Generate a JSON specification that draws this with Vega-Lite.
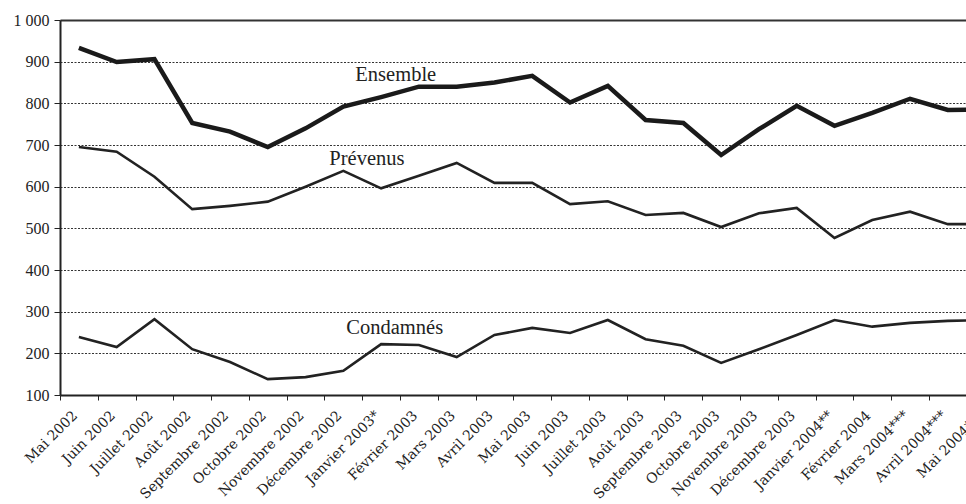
{
  "$schema": "https://vega.github.io/schema/vega-lite/v6.json",
  "autosize": {"type": "none"},
  "width": 906,
  "height": 375,
  "padding": {"left": 60, "top": 20, "right": 0, "bottom": 109},
  "background": "#ffffff",
  "config": {"view": {"stroke": null}, "font": "Liberation Serif"},
  "datasets": {
    "series": [
      {"mois": "Mai 2002", "serie": "Ensemble", "valeur": 933},
      {"mois": "Juin 2002", "serie": "Ensemble", "valeur": 899},
      {"mois": "Juillet 2002", "serie": "Ensemble", "valeur": 906},
      {"mois": "Août 2002", "serie": "Ensemble", "valeur": 753},
      {"mois": "Septembre 2002", "serie": "Ensemble", "valeur": 732},
      {"mois": "Octobre 2002", "serie": "Ensemble", "valeur": 695},
      {"mois": "Novembre 2002", "serie": "Ensemble", "valeur": 740},
      {"mois": "Décembre 2002", "serie": "Ensemble", "valeur": 792},
      {"mois": "Janvier 2003*", "serie": "Ensemble", "valeur": 815},
      {"mois": "Février 2003", "serie": "Ensemble", "valeur": 840},
      {"mois": "Mars 2003", "serie": "Ensemble", "valeur": 840},
      {"mois": "Avril 2003", "serie": "Ensemble", "valeur": 850},
      {"mois": "Mai 2003", "serie": "Ensemble", "valeur": 866},
      {"mois": "Juin 2003", "serie": "Ensemble", "valeur": 802},
      {"mois": "Juillet 2003", "serie": "Ensemble", "valeur": 842},
      {"mois": "Août 2003", "serie": "Ensemble", "valeur": 760},
      {"mois": "Septembre 2003", "serie": "Ensemble", "valeur": 753},
      {"mois": "Octobre 2003", "serie": "Ensemble", "valeur": 676},
      {"mois": "Novembre 2003", "serie": "Ensemble", "valeur": 738},
      {"mois": "Décembre 2003", "serie": "Ensemble", "valeur": 794},
      {"mois": "Janvier 2004**", "serie": "Ensemble", "valeur": 746},
      {"mois": "Février 2004", "serie": "Ensemble", "valeur": 777},
      {"mois": "Mars 2004***", "serie": "Ensemble", "valeur": 811},
      {"mois": "Avril 2004***", "serie": "Ensemble", "valeur": 784},
      {"mois": "Mai 2004***", "serie": "Ensemble", "valeur": 785},
      {"mois": "Mai 2002", "serie": "Prévenus", "valeur": 695},
      {"mois": "Juin 2002", "serie": "Prévenus", "valeur": 684},
      {"mois": "Juillet 2002", "serie": "Prévenus", "valeur": 624},
      {"mois": "Août 2002", "serie": "Prévenus", "valeur": 546},
      {"mois": "Septembre 2002", "serie": "Prévenus", "valeur": 554},
      {"mois": "Octobre 2002", "serie": "Prévenus", "valeur": 564},
      {"mois": "Novembre 2002", "serie": "Prévenus", "valeur": 600},
      {"mois": "Décembre 2002", "serie": "Prévenus", "valeur": 638},
      {"mois": "Janvier 2003*", "serie": "Prévenus", "valeur": 596},
      {"mois": "Février 2003", "serie": "Prévenus", "valeur": 626},
      {"mois": "Mars 2003", "serie": "Prévenus", "valeur": 657},
      {"mois": "Avril 2003", "serie": "Prévenus", "valeur": 609},
      {"mois": "Mai 2003", "serie": "Prévenus", "valeur": 609},
      {"mois": "Juin 2003", "serie": "Prévenus", "valeur": 558},
      {"mois": "Juillet 2003", "serie": "Prévenus", "valeur": 565},
      {"mois": "Août 2003", "serie": "Prévenus", "valeur": 532},
      {"mois": "Septembre 2003", "serie": "Prévenus", "valeur": 537},
      {"mois": "Octobre 2003", "serie": "Prévenus", "valeur": 503},
      {"mois": "Novembre 2003", "serie": "Prévenus", "valeur": 536},
      {"mois": "Décembre 2003", "serie": "Prévenus", "valeur": 549},
      {"mois": "Janvier 2004**", "serie": "Prévenus", "valeur": 477},
      {"mois": "Février 2004", "serie": "Prévenus", "valeur": 520},
      {"mois": "Mars 2004***", "serie": "Prévenus", "valeur": 540},
      {"mois": "Avril 2004***", "serie": "Prévenus", "valeur": 510},
      {"mois": "Mai 2004***", "serie": "Prévenus", "valeur": 510},
      {"mois": "Mai 2002", "serie": "Condamnés", "valeur": 239},
      {"mois": "Juin 2002", "serie": "Condamnés", "valeur": 215},
      {"mois": "Juillet 2002", "serie": "Condamnés", "valeur": 282},
      {"mois": "Août 2002", "serie": "Condamnés", "valeur": 210},
      {"mois": "Septembre 2002", "serie": "Condamnés", "valeur": 179},
      {"mois": "Octobre 2002", "serie": "Condamnés", "valeur": 138},
      {"mois": "Novembre 2002", "serie": "Condamnés", "valeur": 143},
      {"mois": "Décembre 2002", "serie": "Condamnés", "valeur": 158},
      {"mois": "Janvier 2003*", "serie": "Condamnés", "valeur": 222},
      {"mois": "Février 2003", "serie": "Condamnés", "valeur": 220},
      {"mois": "Mars 2003", "serie": "Condamnés", "valeur": 191},
      {"mois": "Avril 2003", "serie": "Condamnés", "valeur": 244},
      {"mois": "Mai 2003", "serie": "Condamnés", "valeur": 261},
      {"mois": "Juin 2003", "serie": "Condamnés", "valeur": 249},
      {"mois": "Juillet 2003", "serie": "Condamnés", "valeur": 280},
      {"mois": "Août 2003", "serie": "Condamnés", "valeur": 234},
      {"mois": "Septembre 2003", "serie": "Condamnés", "valeur": 218},
      {"mois": "Octobre 2003", "serie": "Condamnés", "valeur": 177},
      {"mois": "Novembre 2003", "serie": "Condamnés", "valeur": 210},
      {"mois": "Décembre 2003", "serie": "Condamnés", "valeur": 244},
      {"mois": "Janvier 2004**", "serie": "Condamnés", "valeur": 280},
      {"mois": "Février 2004", "serie": "Condamnés", "valeur": 264},
      {"mois": "Mars 2004***", "serie": "Condamnés", "valeur": 273},
      {"mois": "Avril 2004***", "serie": "Condamnés", "valeur": 278},
      {"mois": "Mai 2004***", "serie": "Condamnés", "valeur": 280}
    ],
    "etiquettes": [
      {"serie": "Ensemble", "mois": "Décembre 2002", "valeur": 868},
      {"serie": "Prévenus", "mois": "Décembre 2002", "valeur": 666},
      {"serie": "Condamnés", "mois": "Décembre 2002", "valeur": 261}
    ]
  },
  "encoding": {
    "x": {
      "field": "mois",
      "type": "nominal",
      "sort": null,
      "title": null,
      "scale": {
        "type": "band",
        "domain": ["Mai 2002", "Juin 2002", "Juillet 2002", "Août 2002", "Septembre 2002", "Octobre 2002", "Novembre 2002", "Décembre 2002", "Janvier 2003*", "Février 2003", "Mars 2003", "Avril 2003", "Mai 2003", "Juin 2003", "Juillet 2003", "Août 2003", "Septembre 2003", "Octobre 2003", "Novembre 2003", "Décembre 2003", "Janvier 2004**", "Février 2004", "Mars 2004***", "Avril 2004***", "Mai 2004***"],
        "range": [0, 944.5],
        "paddingInner": 0,
        "paddingOuter": 0
      },
      "axis": {
        "tickBand": "extent",
        "labelAngle": -45,
        "labelAlign": "right",
        "labelBaseline": "middle",
        "labelPadding": 13,
        "labelOffset": -4,
        "labelFontSize": 14,
        "labelFont": "DejaVu Serif",
        "labelColor": "#222222",
        "tickColor": "#222222",
        "tickSize": 5,
        "domainColor": "#222222",
        "domainWidth": 2,
        "grid": false
      }
    },
    "y": {
      "field": "valeur",
      "type": "quantitative",
      "title": null,
      "scale": {"domain": [100, 1000], "nice": false, "zero": false},
      "axis": {
        "values": [100, 200, 300, 400, 500, 600, 700, 800, 900, 1000],
        "labelExpr": "datum.value == 1000 ? '1 000' : datum.label",
        "labelFontSize": 16,
        "labelFont": "Liberation Serif",
        "labelColor": "#222222",
        "labelPadding": 5,
        "tickSize": 6,
        "tickColor": "#222222",
        "domainColor": "#222222",
        "domainWidth": 2,
        "grid": true,
        "gridColor": "#333333",
        "gridWidth": {"condition": {"test": "datum.value == 1000", "value": 2}, "value": 1.2},
        "gridDash": {"condition": {"test": "datum.value == 1000", "value": []}, "value": [2, 1.5]}
      }
    }
  },
  "layer": [
    {
      "data": {"name": "series"},
      "transform": [{"filter": "datum.serie != 'Ensemble'"}],
      "mark": {"type": "line", "clip": true, "strokeJoin": "miter", "strokeWidth": 2.6, "color": "#222222"},
      "encoding": {
        "detail": {"field": "serie", "type": "nominal"}
      }
    },
    {
      "data": {"name": "series"},
      "transform": [{"filter": "datum.serie == 'Ensemble'"}],
      "mark": {"type": "line", "clip": true, "strokeJoin": "miter", "strokeWidth": 4.5, "color": "#1a1a1a"},
      "encoding": {
        "detail": {"field": "serie", "type": "nominal"}
      }
    },
    {
      "data": {"name": "etiquettes"},
      "transform": [{"filter": "datum.serie == 'Ensemble'"}],
      "mark": {"type": "text", "align": "left", "baseline": "middle", "dx": 12, "fontSize": 20.5, "font": "Liberation Serif", "color": "#222222"},
      "encoding": {"text": {"field": "serie"}}
    },
    {
      "data": {"name": "etiquettes"},
      "transform": [{"filter": "datum.serie == 'Prévenus'"}],
      "mark": {"type": "text", "align": "left", "baseline": "middle", "dx": -14, "fontSize": 20.5, "font": "Liberation Serif", "color": "#222222"},
      "encoding": {"text": {"field": "serie"}}
    },
    {
      "data": {"name": "etiquettes"},
      "transform": [{"filter": "datum.serie == 'Condamnés'"}],
      "mark": {"type": "text", "align": "left", "baseline": "middle", "dx": 3, "fontSize": 20.5, "font": "Liberation Serif", "color": "#222222"},
      "encoding": {"text": {"field": "serie"}}
    }
  ]
}
